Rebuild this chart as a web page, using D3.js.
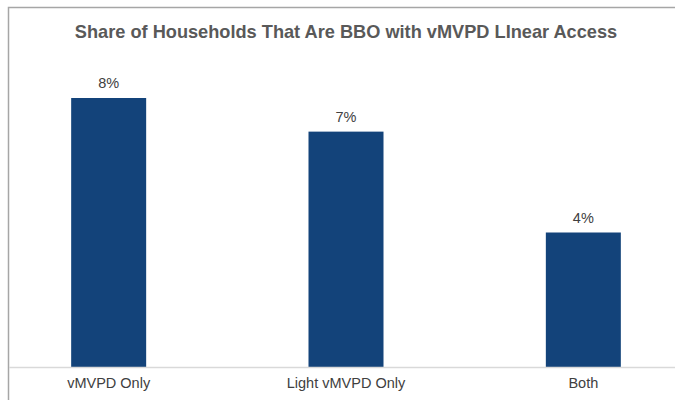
<!DOCTYPE html>
<html>
<head>
<meta charset="utf-8">
<script src="https://cdn.jsdelivr.net/npm/d3@7"></script>
<style>
  body { margin: 0; background: #fff; }
  svg { display: block; font-family: "Liberation Sans", Arial, sans-serif; }
</style>
</head>
<body>
<svg id="chart" width="675" height="400"></svg>
<script>
const categories = ['vMVPD Only', 'Light vMVPD Only', 'Both'];
const values = [8, 7, 4];
const valueLabels = ['8%', '7%', '4%'];
const title = 'Share of Households That Are BBO with vMVPD LInear Access';

const width = 675;
const height = 400;
const baseY = 367;

const svg = d3.select('#chart');

// chart frame (cropped on the right and bottom)
svg.append('path')
    .attr('d', 'M8.5,400 L8.5,7.5 L675,7.5')
    .attr('fill', 'none')
    .attr('stroke', '#a6a6a6')
    .attr('stroke-width', 1.5);

svg.append('text')
    .attr('x', 346)
    .attr('y', 38)
    .attr('text-anchor', 'middle')
    .attr('font-size', 18.2)
    .attr('font-weight', 'bold')
    .attr('fill', '#595959')
    .text(title);

let xScale = d3.scaleBand()
    .domain(categories)
    .range([-10, 702])
    .paddingInner(0.684)
    .paddingOuter(0.342);

let yScale = d3.scaleLinear()
    .domain([0, 8])
    .range([baseY, 98]);

let gMain = svg.append('g');

gMain.selectAll('rect.bar')
    .data(values)
    .enter()
    .append('rect')
    .classed('bar', true)
    .attr('x', (d, i) => xScale(categories[i]))
    .attr('y', (d) => yScale(d))
    .attr('width', xScale.bandwidth())
    .attr('height', (d) => yScale(0) - yScale(d))
    .attr('fill', '#13437a');

gMain.selectAll('text.val')
    .data(values)
    .enter()
    .append('text')
    .classed('val', true)
    .attr('x', (d, i) => xScale(categories[i]) + xScale.bandwidth() / 2)
    .attr('y', (d) => yScale(d) - 10)
    .attr('text-anchor', 'middle')
    .attr('font-size', 14.5)
    .attr('fill', '#404040')
    .text((d, i) => valueLabels[i]);

// baseline
svg.append('line')
    .attr('x1', 9)
    .attr('x2', width)
    .attr('y1', baseY + 0.5)
    .attr('y2', baseY + 0.5)
    .attr('stroke', '#d9d9d9')
    .attr('stroke-width', 1.5);

gMain.selectAll('text.cat')
    .data(categories)
    .enter()
    .append('text')
    .classed('cat', true)
    .attr('x', (d) => xScale(d) + xScale.bandwidth() / 2)
    .attr('y', baseY + 21)
    .attr('text-anchor', 'middle')
    .attr('font-size', 14.5)
    .attr('fill', '#404040')
    .text((d) => d);
</script>
</body>
</html>
